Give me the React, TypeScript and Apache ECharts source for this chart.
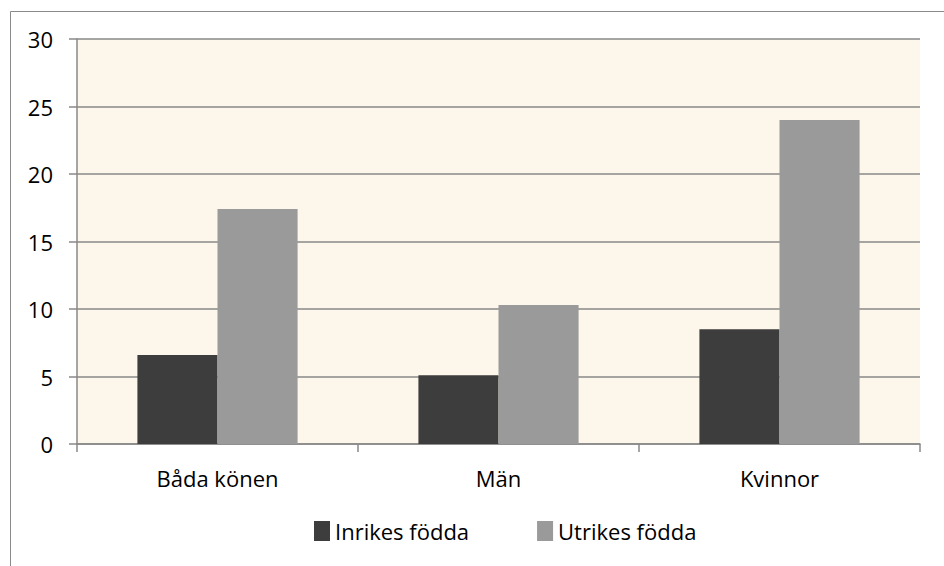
import React, { useEffect, useRef } from "react";
import * as echarts from "echarts";

const categories = ["Båda könen", "Män", "Kvinnor"];
const seriesNames = ["Inrikes födda", "Utrikes födda"];
const inrikes = [6.6, 5.1, 8.5];
const utrikes = [17.4, 10.3, 24.0];
const yTicks = { min: 0, max: 30, interval: 5 };

const FONT = "'Open Sans', 'Noto Sans', sans-serif";

export default function App() {
  const ref = useRef<HTMLDivElement>(null);
  useEffect(() => {
    document.body.style.margin = "0";
    const chart = echarts.init(ref.current!, null, { renderer: "svg" });
    chart.setOption({
      animation: false,
      backgroundColor: "#ffffff",
      textStyle: { fontFamily: FONT },
      graphic: [
        {
          type: "rect",
          shape: { x: 10.5, y: 11.5, width: 1000, height: 1000 },
          style: { fill: "none", stroke: "#8a8a8a", lineWidth: 1 },
          silent: true,
          z: -1,
        },
      ],
      grid: {
        left: 77,
        top: 39,
        right: 24,
        bottom: 122,
        show: true,
        backgroundColor: "#FDF6EB",
        borderWidth: 0,
      },
      legend: {
        bottom: 19,
        left: 309,
        itemWidth: 16,
        itemHeight: 20,
        itemGap: 68,
        icon: "rect",
        textStyle: { fontFamily: FONT, fontSize: 22, color: "#000" },
        data: seriesNames,
      },
      xAxis: {
        type: "category",
        data: categories,
        axisLine: { show: true, lineStyle: { color: "#888888", width: 1.5 } },
        axisTick: { show: true, length: 8, lineStyle: { color: "#888888", width: 1.5 } },
        axisLabel: { fontFamily: FONT, fontSize: 22, color: "#000", margin: 23 },
      },
      yAxis: {
        type: "value",
        min: yTicks.min,
        max: yTicks.max,
        interval: yTicks.interval,
        axisLine: { show: true, lineStyle: { color: "#888888", width: 1.5 } },
        axisTick: { show: true, length: 8, lineStyle: { color: "#888888", width: 1.5 } },
        axisLabel: { fontFamily: FONT, fontSize: 22, color: "#000", margin: 24 },
        splitLine: { show: true, lineStyle: { color: "#888888", width: 1.5 } },
      },
      series: [
        {
          name: seriesNames[0],
          type: "bar",
          data: inrikes,
          barGap: "0%",
          barCategoryGap: "43%",
          itemStyle: { color: "#3D3D3D" },
        },
        {
          name: seriesNames[1],
          type: "bar",
          data: utrikes,
          barGap: "0%",
          barCategoryGap: "43%",
          itemStyle: { color: "#9A9A9A" },
        },
      ],
    });
    return () => chart.dispose();
  }, []);
  return <div ref={ref} style={{ width: 944, height: 566 }} />;
}
